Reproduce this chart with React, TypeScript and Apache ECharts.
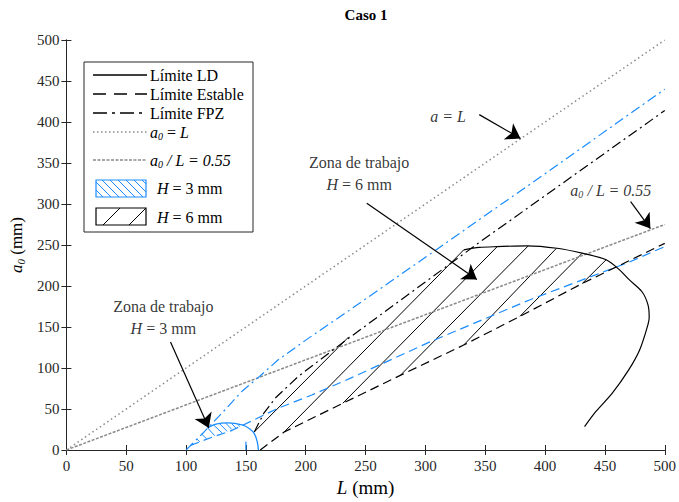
import React, { useEffect, useRef } from "react";
import * as echarts from "echarts";

const FONT = "'Liberation Serif', 'Times New Roman', serif";
const BLUE = "#1a8cff";
const GRAY = "#8a8a8a";
const AXIS = "#262626";

// Reference lines
const lineUnity = [[0, 0], [500, 500]];
const line055 = [[0, 0], [500, 275]];

// H = 6 mm (black)
const ldH6 = [[332, 244], [345, 247], [360, 248], [385, 249], [410, 246], [431, 240], [451, 232], [462, 220], [470, 208], [481, 193], [486, 177], [487, 162], [485, 148], [479, 122], [470, 98], [456, 69], [442.5, 47], [433, 28.5]];
const estableH6 = [[162, 0], [182, 22], [231, 57], [279, 91], [332, 128], [379, 163], [431, 203], [500, 252]];
const fpzH6 = [[157, 22], [165, 45], [175, 64], [194, 90], [230, 130], [343, 251], [500, 414]];
const hatchH6 = [
  [[157, 22], [236, 138]],
  [[182, 22], [332, 244]],
  [[231, 57], [360, 248]],
  [[279, 91], [386, 249]],
  [[332, 128], [409.5, 246]],
  [[379, 163], [431, 240]],
  [[431, 203], [451, 232]],
];

// H = 3 mm (blue)
const ldH3 = [[118, 27], [125, 31.5], [135, 33], [146.8, 30.5], [153, 26], [157, 20], [159.5, 10], [160.5, 0]];
const estableH3 = [[103.7, 5.6], [120, 14.7], [138.5, 24], [147, 30], [177, 51], [205, 67], [238, 88], [304, 132], [387, 183], [470, 229], [500, 248]];
const estableH3Stub = [[150, 0], [150, 10]];
const fpzH3 = [[100, 0], [115, 22], [130, 45], [147, 72], [160, 88], [177, 110], [200, 134], [238, 172], [300, 235], [400, 337], [500, 440]];
const hatchH3 = [
  [[109, 13.5], [111.5, 10]],
  [[113, 19.5], [117.4, 13.2]],
  [[118, 27], [124, 17.4]],
  [[123, 30.5], [130.3, 20.5]],
  [[128, 32.2], [134.3, 22.8]],
  [[133, 33], [138.3, 24.9]],
  [[138, 32.5], [141.5, 26.9]],
  [[143, 31.5], [145, 28.7]],
];

// Annotation arrows [start, tip]
const arrows = [
  [[87, 131.7], [119, 26.8]],
  [[251, 301], [343, 208]],
  [[345, 409], [379.5, 380]],
  [[471.5, 302.8], [488, 270]],
];
// Annotation text anchors
const annH3 = [81, 161];
const annH6 = [244.6, 337];
const annAL = [319, 407];
const ann055 = [455, 317];

const italicRich = {
  i: { fontFamily: FONT, fontStyle: "italic", fontSize: 16, color: "#000" },
  s: { fontFamily: FONT, fontStyle: "italic", fontSize: 10, color: "#000", padding: [8, 0, 0, 0] },
  n: { fontFamily: FONT, fontSize: 16, color: "#000" },
};

export default function App() {
  const ref = useRef<HTMLDivElement>(null);
  useEffect(() => {
    document.body.style.margin = "0";
    const chart = echarts.init(ref.current!, null, { renderer: "svg" });

    const lineSeries = (data: number[][], color: string, type: any, width = 1.2, smooth: any = false) => ({
      type: "line",
      data,
      showSymbol: false,
      symbol: "none",
      smooth,
      lineStyle: { color, width, type },
      silent: true,
    });

    const legendG: any[] = [];
    legendG.push({ type: "rect", shape: { x: 84, y: 62, width: 169, height: 170 }, style: { fill: "#fff", stroke: AXIS, lineWidth: 1 }, z: 100 });
    const legLine = (y: number, stroke: string, dash: any, w = 1.5) =>
      legendG.push({ type: "line", shape: { x1: 93, y1: y, x2: 147, y2: y }, style: { stroke, lineWidth: w, lineDash: dash }, z: 101 });
    legLine(75, "#000", null);
    legLine(94, "#000", [13, 8]);
    legLine(113, "#000", [14, 5, 3, 5]);
    legLine(132, GRAY, [1.5, 2.5]);
    legLine(160, GRAY, [3, 1.5]);
    const legText = (x: number, y: number, text: string, rich?: any) =>
      legendG.push({
        type: "text", x, y, z: 101,
        style: { text, fontFamily: FONT, fontSize: 16, fill: "#000", verticalAlign: "middle", rich },
      });
    legText(150, 75, "Límite LD");
    legText(150, 94, "Límite Estable");
    legText(150, 113, "Límite FPZ");
    legText(150, 132, "{i|a}{s|0}{n| = }{i|L}", italicRich);
    legText(150, 160, "{i|a}{s|0}{i| / L = 0.55}", italicRich);
    legText(157, 188, "{i|H}{n| = 3 mm}", italicRich);
    legText(157, 217, "{i|H}{n| = 6 mm}", italicRich);
    // legend hatch boxes
    legendG.push({ type: "rect", shape: { x: 96, y: 180, width: 50, height: 17 }, style: { fill: "#fff", stroke: BLUE, lineWidth: 1.2 }, z: 101 });
    for (let x0 = 86; x0 < 146; x0 += 8) {
      let xa = x0, ya = 180, xb = x0 + 17, yb = 197;
      if (xa < 96) { ya += 96 - xa; xa = 96; }
      if (xb > 146) { yb -= xb - 146; xb = 146; }
      if (xb > xa) legendG.push({ type: "line", shape: { x1: xa, y1: ya, x2: xb, y2: yb }, style: { stroke: BLUE, lineWidth: 1 }, z: 102 });
    }
    legendG.push({ type: "rect", shape: { x: 96, y: 208, width: 50, height: 17 }, style: { fill: "#fff", stroke: "#000", lineWidth: 1.2 }, z: 101 });
    legendG.push({ type: "line", shape: { x1: 103, y1: 225, x2: 120, y2: 208 }, style: { stroke: "#000", lineWidth: 1 }, z: 102 });
    legendG.push({ type: "line", shape: { x1: 129, y1: 225, x2: 146, y2: 208 }, style: { stroke: "#000", lineWidth: 1 }, z: 102 });
    legendG.push({
      type: "text", x: 366, y: 7, z: 101,
      style: { text: "Caso 1", fontFamily: FONT, fontSize: 15, fontWeight: "bold", fill: "#000", align: "center" },
    });

    const annLabel = (formatter: string) => ({
      show: true, position: "inside", formatter, fontFamily: FONT, fontSize: 16, color: "#000", lineHeight: 22, align: "center",
      rich: { ...italicRich, t: { fontFamily: FONT, fontSize: 16, color: "#000", lineHeight: 22 } },
    });

    const axisCommon = {
      type: "value", min: 0, max: 500, interval: 50,
      axisLine: { show: true, lineStyle: { color: AXIS, width: 1 } },
      axisTick: { show: true, inside: true, length: 5, lineStyle: { color: AXIS } },
      splitLine: { show: false },
    };

    chart.setOption({
      animation: false,
      textStyle: { fontFamily: FONT },
      grid: { left: 63, right: 13, top: 40, bottom: 52 },
      xAxis: [
        {
          ...axisCommon, position: "bottom",
          axisLabel: { fontFamily: FONT, fontSize: 15, color: AXIS, margin: 8 },
          name: "{i|L}{n| (mm)}", nameLocation: "middle", nameGap: 28,
          nameTextStyle: { rich: { i: { fontFamily: FONT, fontStyle: "italic", fontSize: 19, color: "#000" }, n: { fontFamily: FONT, fontSize: 19, color: "#000" } } },
        },
        { ...axisCommon, position: "top", axisLabel: { show: false } },
      ],
      yAxis: [
        {
          ...axisCommon, position: "left",
          axisLabel: { fontFamily: FONT, fontSize: 15, color: AXIS, margin: 7 },
          name: "{i|a}{s|0}{n| (mm)}", nameLocation: "middle", nameGap: 38,
          nameTextStyle: {
            rich: {
              i: { fontFamily: FONT, fontStyle: "italic", fontSize: 17, color: "#000" },
              s: { fontFamily: FONT, fontStyle: "italic", fontSize: 11, color: "#000", padding: [8, 0, 0, 0] },
              n: { fontFamily: FONT, fontSize: 17, color: "#000" },
            },
          },
        },
        { ...axisCommon, position: "right", axisLabel: { show: false } },
      ],
      series: [
        lineSeries(lineUnity, GRAY, [1.5, 3], 1.5),
        lineSeries(line055, GRAY, [3, 1.5], 1.5),
        lineSeries(fpzH3, BLUE, [10, 4, 2, 4]),
        lineSeries(estableH3, BLUE, [9, 5]),
        lineSeries(estableH3Stub, BLUE, [9, 5]),
        lineSeries(ldH3, BLUE, "solid", 1.3, 0.3),
        lineSeries(fpzH6, "#000", [10, 4, 2, 4]),
        lineSeries(estableH6, "#000", [9, 5]),
        lineSeries(ldH6, "#000", "solid", 1.2, 0.3),
        {
          type: "lines", coordinateSystem: "cartesian2d", polyline: false, silent: true,
          data: hatchH6.map((c) => ({ coords: c })),
          lineStyle: { color: "#000", width: 1, opacity: 1 }, symbol: "none",
        },
        {
          type: "lines", coordinateSystem: "cartesian2d", polyline: false, silent: true,
          data: hatchH3.map((c) => ({ coords: c })),
          lineStyle: { color: BLUE, width: 1, opacity: 1 }, symbol: "none",
        },
        {
          type: "lines", coordinateSystem: "cartesian2d", polyline: false, silent: true,
          data: arrows.map((c) => ({ coords: c })),
          lineStyle: { color: "#000", width: 1.2, opacity: 1 },
          symbol: ["none", "arrow"], symbolSize: 14,
          z: 5,
        },
        {
          type: "scatter", symbolSize: 0, silent: true, z: 6,
          data: [
            { value: annH3, label: annLabel("{t|Zona de trabajo}\n{i|H}{n| = 3 mm}") },
            { value: annH6, label: annLabel("{t|Zona de trabajo}\n{i|H}{n| = 6 mm}") },
            { value: annAL, label: annLabel("{i|a = L}") },
            { value: ann055, label: annLabel("{i|a}{s|0}{i| / L = 0.55}") },
          ],
        },
      ],
      graphic: legendG,
    });
    return () => chart.dispose();
  }, []);
  return <div ref={ref} style={{ width: 679, height: 502 }} />;
}
